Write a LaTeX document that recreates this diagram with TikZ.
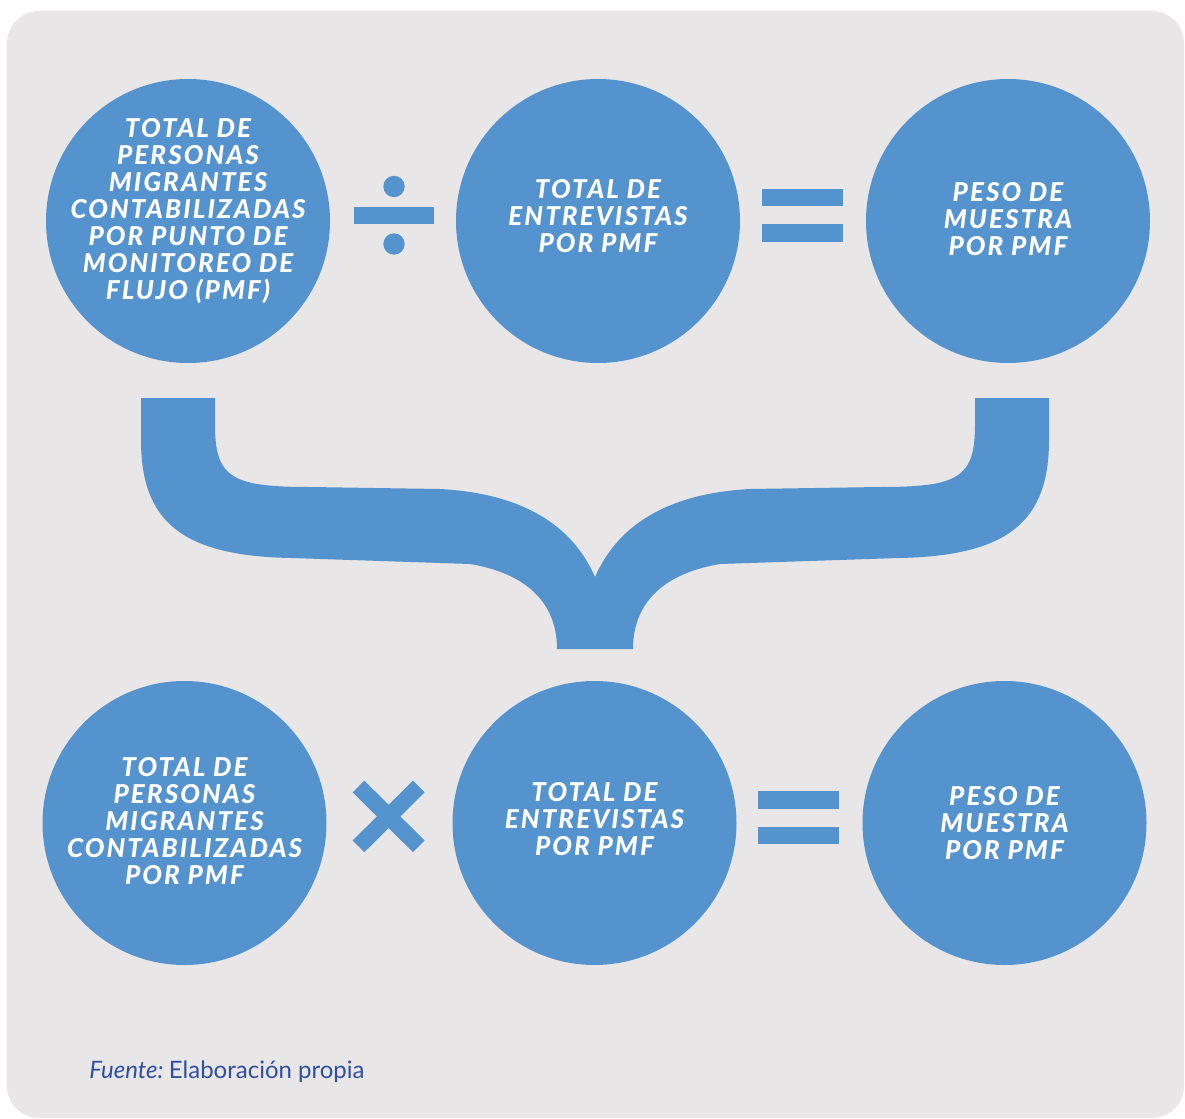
\documentclass[tikz,border=0pt]{standalone}
\usepackage{fontspec}
\setmainfont{Lato}
\newfontfamily\bubblefont{Lato Black Italic}[LetterSpace=8]

\definecolor{panelgray}{HTML}{E8E6E7}
\definecolor{pmfblue}{HTML}{5593CF}
\definecolor{srcblue}{HTML}{2E509F}

\tikzset{
    bubble/.style={circle, fill=pmfblue, minimum size=142pt, inner sep=0pt},
    bubbletext/.style={text=white, align=center, inner sep=0pt,
        font=\bubblefont\fontsize{13}{13.5}\selectfont},
}

\begin{document}
\begin{tikzpicture}[x=0.5pt, y=-0.5pt]
                \newcommand{\rowtop}{221}
                \newcommand{\rowbot}{823}
                \newcommand{\dotr}{10.7}

                \useasboundingbox (0,0) rectangle (1185,1119);

                % Draw panel
                \fill[panelgray, rounded corners=16pt] (7,11) rectangle (1184,1118);

                % Draw circles
                \node[bubble] (ptotal) at (188,\rowtop) {};
                \node[bubble] (pentrev) at (598,\rowtop) {};
                \node[bubble] (ppeso) at (1008,\rowtop) {};
                \node[bubble] (qtotal) at (184.5,\rowbot) {};
                \node[bubble] (qentrev) at (594.5,\rowbot) {};
                \node[bubble] (qpeso) at (1004.5,\rowbot) {};

                % Draw texts
                \node[bubbletext] (ptotaltxt) at ([yshift=5pt]ptotal) {TOTAL DE\\PERSONAS\\MIGRANTES\\CONTABILIZADAS\\POR PUNTO DE\\MONITOREO DE\\FLUJO (PMF)};
                \node[bubbletext] (pentrevtxt) at ([yshift=2.5pt]pentrev) {TOTAL DE\\ENTREVISTAS\\POR PMF};
                \node[bubbletext] (ppesotxt) at ([yshift=1pt]ppeso) {PESO DE\\MUESTRA\\POR PMF};
                \node[bubbletext] (qtotaltxt) at ([yshift=1pt]qtotal) {TOTAL DE\\PERSONAS\\MIGRANTES\\CONTABILIZADAS\\POR PMF};
                \node[bubbletext] (qentrevtxt) at ([yshift=2pt]qentrev) {TOTAL DE\\ENTREVISTAS\\POR PMF};
                \node[bubbletext] (qpesotxt) at (qpeso) {PESO DE\\MUESTRA\\POR PMF};

                % Draw division sign
                \fill[pmfblue] (354,206.5) rectangle (434,224);
                \fill[pmfblue] (394,186.5) circle[radius=\dotr];
                \fill[pmfblue] (394,244) circle[radius=\dotr];

                % Draw equal signs
                \foreach \x/\y in {762/188.5, 758/791} {
                    \fill[pmfblue] (\x,\y) rectangle (\x+81,\y+17.5);
                    \fill[pmfblue] (\x,\y+35.5) rectangle (\x+81,\y+53);
                }

                % Draw times sign
                \draw[pmfblue, line width=8.25pt] (358.5,786.5) -- (418.8,846.3);
                \draw[pmfblue, line width=8.25pt] (418.8,786.5) -- (358.5,846.3);

                % Draw brace
                \fill[pmfblue] (141,398) -- (215,398) -- (215,425)
                    .. controls (215,478) and (232,487) .. (310,487)
                    -- (440,489) .. controls (515,493) and (570,520) .. (595,577)
                    .. controls (620,520) and (675,493) .. (750,489)
                    -- (880,487) .. controls (958,487) and (975,478) .. (975,425)
                    -- (975,398) -- (1049,398) -- (1049,440)
                    .. controls (1049,520) and (1010,556) .. (899,558)
                    -- (720,564) .. controls (655,575) and (633,610) .. (633,649)
                    -- (557,649) .. controls (557,610) and (535,575) .. (470,564)
                    -- (291,558) .. controls (180,556) and (141,520) .. (141,440)
                    -- cycle;

                % Draw source
                \node[anchor=base west, text=srcblue, inner sep=0pt, font=\fontsize{12}{15}\selectfont] (fuente) at (89,1078) {{\itshape Fuente:}\hspace{0.22em}Elaboración propia};
            \end{tikzpicture}
\end{document}
